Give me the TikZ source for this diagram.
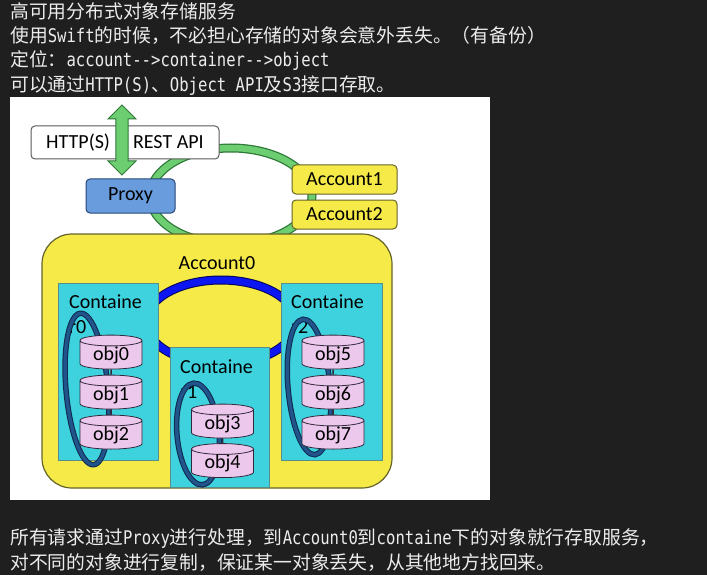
\documentclass[tikz,border=0pt]{standalone}
\usepackage{fontspec}
\newfontfamily\cjk{Noto Sans CJK SC}
\newfontfamily\lat{DejaVu Sans Mono}[FakeStretch=0.83]
\newfontfamily\calib{Carlito}
\usetikzlibrary{shapes.geometric,shapes.arrows}

\definecolor{bg}{RGB}{31,31,31}
\definecolor{txt}{RGB}{236,236,236}
\definecolor{ringg}{RGB}{108,206,112}
\definecolor{ringgd}{RGB}{45,120,55}
\definecolor{proxyb}{RGB}{104,156,220}
\definecolor{proxybd}{RGB}{40,70,120}
\definecolor{acc}{RGB}{245,234,72}
\definecolor{accd}{RGB}{100,100,40}
\definecolor{cont}{RGB}{62,210,222}
\definecolor{contd}{RGB}{90,140,140}
\definecolor{ringb}{RGB}{12,22,240}
\definecolor{ringbd}{RGB}{0,0,90}
\definecolor{loopb}{RGB}{32,84,138}
\definecolor{loopbd}{RGB}{15,40,75}
\definecolor{objp}{RGB}{236,200,236}
\definecolor{objd}{RGB}{50,40,60}

\tikzset{
  line/.style={font=\cjk\fontsize{18.8}{24}\selectfont, text=txt, anchor=base west, inner sep=0},
  lbl/.style={font=\calib\fontsize{20}{24.5}\selectfont, inner sep=0},
  box/.style={draw, rounded corners=4, line width=1, inner sep=0, lbl},
  cont/.style={draw=contd, fill=cont, line width=0.8, inner sep=0},
  obj/.style={cylinder, shape border rotate=90, aspect=0.3, draw=objd, fill=objp,
    line width=0.8, minimum width=62, minimum height=34, lbl},
  link/.style={objd, line width=1.5}
}

\begin{document}
\begin{tikzpicture}[x=1pt,y=-1pt]
    \useasboundingbox (0,0) rectangle (707,575);
    \fill [bg] (0,0) rectangle (707,575);
    \node[line] (t1) at (10,19) {高可用分布式对象存储服务};
    \node[line] (t2) at (10,43) {使用{\lat Swift}的时候，不必担心存储的对象会意外丢失。（有备份）};
    \node[line] (t3) at (10,67) {定位：{\lat account-{}->container-{}->object}};
    \node[line] (t4) at (10,92) {可以通过{\lat HTTP(S)}、{\lat Object API}及{\lat S3}接口存取。};
    \node[line] (b1) at (10,544) {所有请求通过{\lat Proxy}进行处理，到{\lat Account0}到{\lat containe}下的对象就行存取服务，};
    \node[line] (b2) at (10,569) {对不同的对象进行复制，保证某一对象丢失，从其他地方找回来。};

    \fill [white] (10,97) rectangle (490,500);
    % swift ring
    \draw [ringgd, line width=9] (231,196) ellipse [x radius=81, y radius=48];
    \draw [ringg, line width=6.5] (231,196) ellipse [x radius=81, y radius=48];
    \node[box, fill=white, draw=gray!70!black, minimum width=188, minimum height=33] (rest) at (125,142.5) {HTTP(S)\hspace{23pt}REST API};
    \node[double arrow, draw=ringgd, fill=ringg, line width=1, rotate=90, minimum height=70,
      minimum width=28, inner sep=5] (api) at (122,140) {};
    \node[box, fill=proxyb, draw=proxybd, minimum width=89, minimum height=34] (proxy) at (130.5,196) {Proxy};
    \node[box, fill=acc, draw=accd, minimum width=105, minimum height=29] (acc1) at (344.5,179.5) {Account1};
    \node[box, fill=acc, draw=accd, minimum width=105, minimum height=29] (acc2) at (344.5,214.5) {Account2};

    \node[draw=accd, fill=acc, rounded corners=30, line width=1.2, minimum width=350,
      minimum height=254] (acc0) at (217,361) {};
    \node[lbl] (acc0t) at (217,263) {Account0};
    \draw [ringbd, line width=9] (221,322) ellipse [x radius=75, y radius=42];
    \draw [ringb, line width=7] (221,322) ellipse [x radius=75, y radius=42];

    \node[cont, minimum width=100, minimum height=177] (c0) at (108,371.5) {};
    \node[cont, minimum width=99, minimum height=140] (c1) at (219.5,417) {};
    \node[cont, minimum width=101, minimum height=177] (c2) at (331.5,371.5) {};
    \node[lbl, align=left, anchor=base west] (c0t) at (69,333) {Containe\\r0};
    \node[lbl, align=left, anchor=base west] (c1t) at (180,398) {Containe\\r1};
    \node[lbl, align=left, anchor=base west] (c2t) at (291,333) {Containe\\r2};

    \foreach \x/\y/\r in {87/389/76, 198/434/51, 309/387/68} {
      \draw [loopbd, line width=5.5, rotate around={5:(\x,\y)}] (\x,\y) ellipse [x radius=21, y radius=\r];
      \draw [loopb, line width=3.5, rotate around={5:(\x,\y)}] (\x,\y) ellipse [x radius=21, y radius=\r];
    }

    \foreach \n/\x/\y in {0/111/355, 1/111/395, 2/111/435, 3/222.5/424, 4/222.5/463.5,
      5/333/355, 6/333/395, 7/333/435}
      \node[obj] (o\n) at (\x,\y) {obj\n};
    \draw [link] (o0) -- (o1);
    \draw [link] (o1) -- (o2);
    \draw [link] (o3) -- (o4);
    \draw [link] (o5) -- (o6);
    \draw [link] (o6) -- (o7);
  \end{tikzpicture}
\end{document}
